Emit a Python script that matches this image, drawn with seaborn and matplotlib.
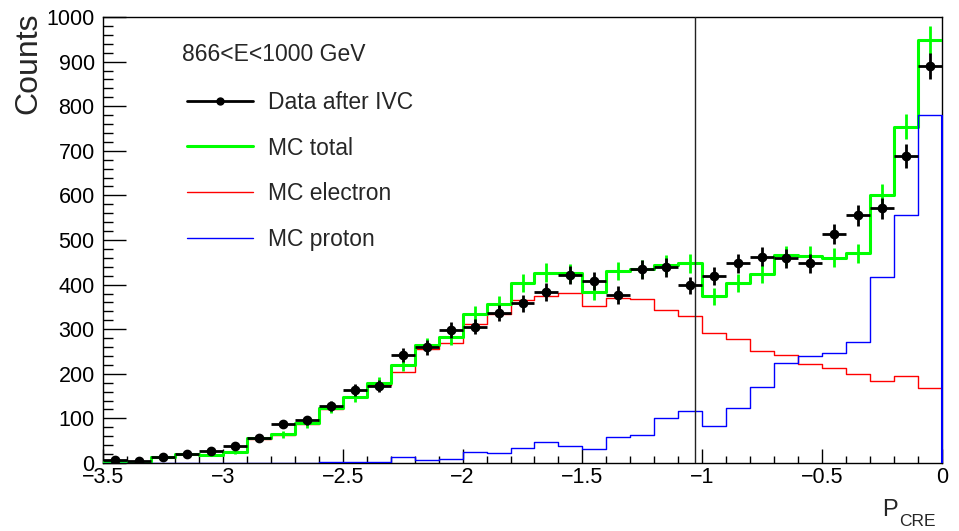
import numpy as np
import pandas as pd
import matplotlib
matplotlib.use("Agg")
import matplotlib.pyplot as plt
from matplotlib.lines import Line2D
from matplotlib.ticker import MultipleLocator
import seaborn as sns

# Binning of the P_CRE variable
bin_edges = [round(-3.5 + 0.1 * i, 2) for i in range(36)]
bin_centers = [round(e + 0.05, 3) for e in bin_edges[:-1]]

# Counts per bin
data_counts = [7, 4, 13, 20, 28, 37, 57, 87, 96, 128, 164, 173, 242, 259, 298,
               306, 337, 358, 383, 422, 408, 377, 434, 439, 398, 419, 448, 463,
               459, 448, 513, 556, 571, 688, 890]
mc_total = [3, 3, 13, 21, 19, 25, 55, 64, 89, 123, 149, 179, 220, 265, 282,
            333, 356, 404, 427, 425, 384, 430, 435, 445, 448, 374, 403, 424,
            466, 464, 460, 470, 601, 754, 948]
mc_electron = [3, 3, 13, 21, 19, 25, 54, 63, 88, 121, 147, 176, 205, 255, 270,
               311, 333, 365, 374, 382, 352, 371, 367, 343, 330, 291, 278, 251,
               242, 221, 214, 200, 184, 195, 169]
mc_proton = [0, 0, 0, 0, 0, 0, 1, 1, 1, 2, 2, 2, 13, 7, 10, 24, 22, 34, 48, 39,
             31, 58, 63, 100, 117, 84, 124, 170, 224, 241, 246, 271, 418, 556, 780]

cut_value = -1.03
energy_label = "866<E<1000 GeV"
legend_labels = ["Data after IVC", "MC total", "MC electron", "MC proton"]
x_tick_labels = ["\u22123.5", "\u22123", "\u22122.5", "\u22122", "\u22121.5",
                 "\u22121", "\u22120.5", "0"]

hist_df = pd.DataFrame({
    "pcre": bin_centers,
    "total": mc_total,
    "electron": mc_electron,
    "proton": mc_proton,
})

sns.set_style("ticks")
plt.rcParams["font.family"] = ["Liberation Sans", "DejaVu Sans"]
plt.rcParams["axes.unicode_minus"] = True

fig = plt.figure(figsize=(9.59, 5.31), dpi=100)
ax = fig.add_axes([103 / 959, 1 - 463 / 531, 839 / 959, 446 / 531])

green, red, blue = "#00ff00", "#ff0000", "#0000ff"

# Stepped MC histograms
sns.histplot(data=hist_df, x="pcre", weights="total", bins=bin_edges,
             element="step", fill=False, color=green, linewidth=2.2, ax=ax,
             zorder=3)
sns.histplot(data=hist_df, x="pcre", weights="electron", bins=bin_edges,
             element="step", fill=False, color=red, linewidth=1.0, ax=ax,
             zorder=2)
sns.histplot(data=hist_df, x="pcre", weights="proton", bins=bin_edges,
             element="step", fill=False, color=blue, linewidth=1.0, ax=ax,
             zorder=4)

centers_arr = np.asarray(bin_centers, float)
mc_total_arr = np.asarray(mc_total, float)
data_arr = np.asarray(data_counts, float)

# Closing edge of the proton histogram at the upper bin boundary
ax.vlines(bin_edges[-1], 0, mc_proton[-1], color=blue, lw=1.5, zorder=7,
          clip_on=False)

# Statistical uncertainties on MC total
ax.errorbar(centers_arr, mc_total_arr, yerr=np.sqrt(mc_total_arr), fmt="none",
            ecolor=green, elinewidth=2.0, capsize=0, zorder=3)

# Data points with bin-width and Poisson errors
ax.errorbar(centers_arr, data_arr, xerr=0.05, yerr=np.sqrt(data_arr), fmt="o",
            color="black", ms=6, elinewidth=2.0, capsize=0, zorder=6)

ax.axvline(cut_value, color="#222222", lw=1.0, zorder=5)

ax.set_xlim(-3.5, 0)
ax.set_ylim(0, 1000)
ax.set_xlabel("")
ax.set_ylabel("")

ax.yaxis.set_major_locator(MultipleLocator(100))
ax.yaxis.set_minor_locator(MultipleLocator(20))
ax.set_xticks(np.arange(-3.5, 0.01, 0.5))
ax.set_xticklabels(x_tick_labels)
ax.xaxis.set_minor_locator(MultipleLocator(0.1))
ax.tick_params(axis="both", which="both", direction="in", top=False, right=False,
               colors="black", width=1.0, labelsize=15.5)
ax.tick_params(axis="x", which="major", length=10, pad=3)
ax.tick_params(axis="x", which="minor", length=5)
ax.tick_params(axis="y", which="major", length=16.5, pad=6)
ax.tick_params(axis="y", which="minor", length=7)
for side in ["left", "right", "top", "bottom"]:
    ax.spines[side].set_visible(True)
    ax.spines[side].set_color("black")
    ax.spines[side].set_linewidth(1.0)

# Legend header and entries
ax.text(0.0942, 0.915, energy_label, transform=ax.transAxes, ha="left",
        va="center", fontsize=16.5)
handles = [
    Line2D([], [], color="black", lw=2.0, marker="o", ms=5),
    Line2D([], [], color=green, lw=2.2),
    Line2D([], [], color=red, lw=1.0),
    Line2D([], [], color=blue, lw=1.0),
]
leg = ax.legend(handles, legend_labels, loc="upper left",
                bbox_to_anchor=(0.1001, 0.835), frameon=False, fontsize=16.5,
                handlelength=2.88, handletextpad=0.65,
                labelspacing=1.0, borderpad=0, borderaxespad=0)

# Axis titles
fig.text(28 / 959, 1 - 13 / 531, "Counts", rotation=90, ha="center", va="top",
         fontsize=23)
fig.text(898 / 959, 1 - 516 / 531, "P", ha="right", va="baseline", fontsize=17)
fig.text(899 / 959, 1 - 526 / 531, "CRE", ha="left", va="baseline", fontsize=12.5)

fig.savefig("out.png", dpi=100, facecolor="white")
